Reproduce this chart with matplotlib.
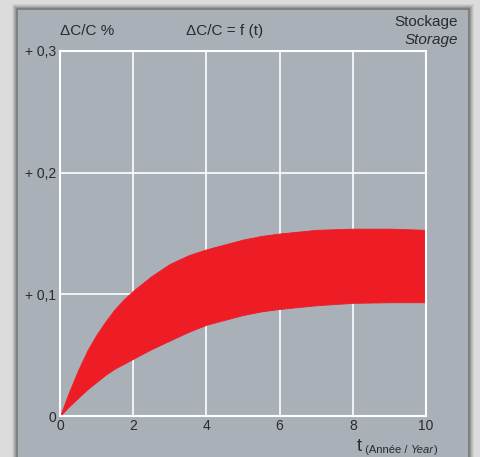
import matplotlib
matplotlib.use("Agg")
import matplotlib.pyplot as plt
from matplotlib.patches import Rectangle

# Relative capacity change during storage: upper and lower envelope (%)
t_years = [0, 0.25, 0.5, 0.75, 1, 1.25, 1.5, 1.75, 2, 2.5, 3, 3.5, 4, 4.5,
           5, 5.5, 6, 7, 8, 9, 10]
upper = [0, 0.020, 0.038, 0.054, 0.067, 0.078, 0.088, 0.096, 0.103, 0.115,
         0.125, 0.132, 0.137, 0.141, 0.145, 0.148, 0.150, 0.153, 0.154, 0.154,
         0.153]
lower = [0, 0.008, 0.015, 0.022, 0.028, 0.034, 0.039, 0.043, 0.047, 0.055,
         0.062, 0.069, 0.075, 0.079, 0.083, 0.086, 0.088, 0.091, 0.093, 0.0935,
         0.0935]

x_ticks = [0, 2, 4, 6, 8, 10]
x_tick_labels = ["0", "2", "4", "6", "8", "10"]
y_ticks = [0, 0.1, 0.2, 0.3]
y_tick_labels = ["0", "+ 0,1", "+ 0,2", "+ 0,3"]

FONT = ["Liberation Sans Narrow", "Liberation Sans", "DejaVu Sans"]
TXT = "#2b2b2b"
PANEL = "#a9b0b7"
RED = "#ee1c25"

W, H = 480, 457
fig = plt.figure(figsize=(W / 100, H / 100), dpi=100)
fig.patch.set_facecolor("#dcdcdc")

# soft shadow around the grey panel
for i, a in enumerate([0.05, 0.07, 0.09, 0.12, 0.16]):
    d = 6 - i
    fig.add_artist(Rectangle(((18 - d) / W, 0), (450 + 2 * d) / W, (447 + d) / H,
                             transform=fig.transFigure, facecolor="black",
                             alpha=a, edgecolor="none", zorder=0))
fig.add_artist(Rectangle((18 / W, 0), 450 / W, 447 / H, transform=fig.transFigure,
                         facecolor=PANEL, edgecolor="none", zorder=1))

ax = fig.add_axes([60 / W, 41 / H, 366 / W, 365 / H])
ax.set_facecolor(PANEL)
ax.set_zorder(2)
ax.fill_between(t_years, lower, upper, color=RED, linewidth=0.6,
                edgecolor=RED, zorder=3)

ax.set_xlim(0, 10)
ax.set_ylim(0, 0.3)
ax.set_xticks(x_ticks)
ax.set_xticklabels(x_tick_labels, family=FONT, fontsize=10, color=TXT)
ax.set_yticks(y_ticks)
ax.set_yticklabels(y_tick_labels, family=FONT, fontsize=10, color=TXT)
ax.tick_params(length=0, pad=3)
ax.tick_params(axis="x", pad=2)
ax.grid(True, color="white", linewidth=1.2, zorder=2)
ax.set_axisbelow(True)
for s in ax.spines.values():
    s.set_color("white")
    s.set_linewidth(1.5)
    s.set_zorder(4)

def px(x, y):
    return x / W, 1 - y / H

fig.text(*px(60, 31), "ΔC/C %", family=FONT, fontsize=11, color=TXT,
         va="center", ha="left", zorder=5)
fig.text(*px(186, 31), "ΔC/C = f (t)", family=FONT, fontsize=11, color=TXT,
         va="center", ha="left", zorder=5)
fig.text(*px(458, 22), "Stockage", family=FONT, fontsize=11, color=TXT,
         va="center", ha="right", zorder=5)
fig.text(*px(458, 40), "Storage", family=FONT, fontsize=11, color=TXT,
         style="italic", va="center", ha="right", zorder=5)

t0 = fig.text(*px(357, 451), "t", family=FONT, fontsize=13, color=TXT,
              va="baseline", ha="left", zorder=5)
t1 = ax.annotate(" (Année / ", xy=(1, 0), xycoords=t0, va="bottom", ha="left",
                 family=FONT, fontsize=8, color=TXT, annotation_clip=False)
t2 = ax.annotate("Year", xy=(1, 0), xycoords=t1, va="bottom", ha="left",
                 family=FONT, fontsize=8, color=TXT, style="italic",
                 annotation_clip=False)
ax.annotate(")", xy=(1, 0), xycoords=t2, va="bottom", ha="left",
            family=FONT, fontsize=8, color=TXT, annotation_clip=False)

fig.savefig("out.png", dpi=100, facecolor=fig.get_facecolor())
